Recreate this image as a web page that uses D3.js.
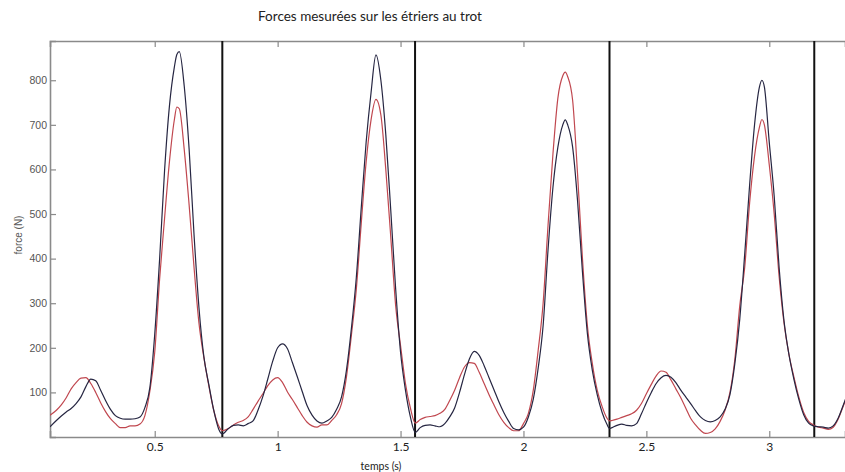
<!DOCTYPE html>
<html>
<head>
<meta charset="utf-8">
<script src="https://cdn.jsdelivr.net/npm/d3@7"></script>
<style>
  body { margin: 0; background: #fff; }
  svg { display: block; }
</style>
</head>
<body>
<div id="chart"></div>
<script>
// time (s) of each sample
const time = [
  0.074,0.10,0.12,0.14,0.16,0.18,0.20,0.22,0.24,0.26,0.28,0.30,0.32,0.34,0.36,0.38,0.40,0.42,0.44,0.46,0.48,0.50,0.52,0.54,0.56,0.58,0.59,0.60,0.62,0.64,0.66,0.68,0.70,0.72,0.74,0.76,0.775,
  0.80,0.82,0.84,0.86,0.88,0.90,0.92,0.94,0.96,0.98,1.00,1.02,1.04,1.06,1.08,1.10,1.12,1.14,1.16,1.18,1.20,1.22,1.24,1.26,1.28,1.30,1.32,1.34,1.36,1.38,1.40,1.42,1.44,1.46,1.48,1.50,1.52,1.54,1.56,
  1.58,1.60,1.62,1.64,1.66,1.68,1.70,1.72,1.74,1.76,1.78,1.80,1.82,1.84,1.86,1.88,1.90,1.92,1.94,1.96,1.98,2.00,2.02,2.04,2.06,2.08,2.10,2.12,2.14,2.16,2.17,2.18,2.20,2.22,2.24,2.26,2.28,2.30,2.32,2.34,2.35,
  2.36,2.38,2.40,2.42,2.44,2.46,2.48,2.50,2.52,2.54,2.56,2.58,2.60,2.62,2.64,2.66,2.68,2.70,2.72,2.74,2.76,2.78,2.80,2.82,2.84,2.86,2.88,2.90,2.92,2.94,2.96,2.97,2.98,3.00,3.02,3.04,3.06,3.08,3.10,3.12,3.14,3.16,3.18,3.20,3.22,3.24,3.26,3.28,3.30,3.31
];

// dark stirrup trace (N)
const forceBlack = [
  23,37,47,56,64,75,90,113,130,126,105,82,62,48,42,40,40,41,45,66,110,230,400,597,743,830,858,864,787,645,453,290,180,118,60,18,7,
  19,26,27,25,30,36,60,91,130,170,200,209,198,167,135,102,70,49,36,31,36,44,62,90,150,243,357,513,661,772,857,800,678,510,333,190,105,45,10,
  21,26,27,25,23,30,45,65,100,140,175,192,183,160,133,106,79,55,35,19,16,22,45,85,155,250,420,560,650,700,711,700,650,530,370,232,150,95,55,28,19,
  21,26,29,26,25,30,52,77,100,120,133,138,134,122,105,90,75,59,45,37,34,37,45,62,95,165,265,410,565,700,785,800,785,660,540,380,260,185,130,85,50,31,25,23,22,20,25,42,70,85
];

// red stirrup trace (N)
const forceRed = [
  49,60,72,88,108,122,132,133,120,100,77,57,41,30,21,21,25,25,29,48,102,190,355,490,618,712,740,736,645,520,380,255,178,115,60,25,14,
  19,27,33,37,45,62,80,97,115,128,133,122,101,84,66,48,33,25,22,27,27,37,50,75,135,228,331,478,616,711,757,722,600,450,295,205,120,65,31,
  39,44,46,48,53,62,82,105,133,157,167,165,145,120,95,72,50,33,21,14,14,30,53,105,195,300,475,635,760,810,818,808,755,590,400,250,165,105,68,42,36,
  37,40,44,48,52,60,75,97,118,137,148,145,128,108,88,65,42,27,15,8,10,18,35,60,100,175,295,380,525,630,695,712,700,610,500,360,255,185,135,90,55,35,27,22,20,17,22,40,68,82
];

// vertical stride separators (s)
const strideMarks = [0.775, 1.559, 2.35, 3.183];

const xTicks = [0.5, 1, 1.5, 2, 2.5, 3];
const yTicks = [100, 200, 300, 400, 500, 600, 700, 800];

const titleText = "Forces mesurées sur les étriers au trot";
const xLabel = "temps (s)";
const yLabel = "force (N)";

////////////////////////////////////////////////////////////////////////
// layout

let width = 845, height = 472;
let plotLeft = 50, plotRight = 845, plotTop = 41, plotBottom = 437;

let xScale = d3.scaleLinear().domain([0.074, 3.308]).range([plotLeft, plotRight]);
let yScale = d3.scaleLinear().domain([0, 888]).range([plotBottom, plotTop]);

let svg = d3.select("#chart").append("svg")
  .attr("width", width)
  .attr("height", height);

svg.append("defs").append("clipPath").attr("id", "plotClip")
  .append("rect")
  .attr("x", plotLeft).attr("y", plotTop)
  .attr("width", plotRight - plotLeft).attr("height", plotBottom - plotTop);

let axisColor = "#8a8a8a";

// axes, ticks pointing inwards like matlab
let gy = svg.append("g")
  .attr("transform", "translate(" + plotLeft + ",0)")
  .call(d3.axisLeft(yScale).tickValues(yTicks).tickSize(-6).tickPadding(3));

let gx = svg.append("g")
  .attr("transform", "translate(0," + plotBottom + ")")
  .call(d3.axisBottom(xScale).tickValues(xTicks).tickSize(-6).tickPadding(5)
    .tickFormat(d3.format("~g")));

let gt = svg.append("g")
  .attr("transform", "translate(0," + plotTop + ")")
  .call(d3.axisTop(xScale).tickValues(xTicks).tickSize(-6).tickFormat(""));

[gx, gy, gt].forEach(function(g) {
  g.select(".domain").attr("stroke", axisColor).attr("stroke-width", 1.6);
  g.selectAll(".tick line").attr("stroke", axisColor).attr("stroke-width", 1.2);
});

gy.selectAll("text")
  .attr("font-family", "'Liberation Sans', Arial, sans-serif")
  .attr("font-size", 10.5)
  .attr("fill", "#555");

gx.selectAll("text")
  .attr("font-family", "Lato, 'Open Sans', sans-serif")
  .attr("font-size", 12)
  .attr("fill", "#222");

// stride separators
svg.append("g").selectAll("line")
  .data(strideMarks)
  .enter().append("line")
  .attr("x1", d => xScale(d)).attr("x2", d => xScale(d))
  .attr("y1", yScale(0)).attr("y2", plotTop)
  .attr("stroke", "#111")
  .attr("stroke-width", 2);

// force traces
let line = d3.line()
  .x(d => xScale(d[0]))
  .y(d => yScale(d[1]))
  .curve(d3.curveMonotoneX);

let series = [
  { values: forceRed, color: "#c0474f" },
  { values: forceBlack, color: "#262642" }
];

svg.append("g").attr("clip-path", "url(#plotClip)")
  .selectAll("path")
  .data(series)
  .enter().append("path")
  .attr("d", s => line(time.map((t, i) => [t, s.values[i]])))
  .attr("fill", "none")
  .attr("stroke", s => s.color)
  .attr("stroke-width", 1.2);

// texts
svg.append("text")
  .attr("x", 370).attr("y", 21)
  .attr("text-anchor", "middle")
  .attr("font-family", "Lato, 'Open Sans', sans-serif")
  .attr("font-size", 13.5)
  .attr("fill", "#222")
  .text(titleText);

svg.append("text")
  .attr("x", 381).attr("y", 470)
  .attr("text-anchor", "middle")
  .attr("font-family", "Lato, 'Open Sans', sans-serif")
  .attr("font-size", 10.5)
  .attr("fill", "#222")
  .text(xLabel);

svg.append("text")
  .attr("transform", "translate(22,235) rotate(-90)")
  .attr("text-anchor", "middle")
  .attr("font-family", "'Liberation Sans', Arial, sans-serif")
  .attr("font-size", 10)
  .attr("fill", "#555")
  .text(yLabel);
</script>
</body>
</html>
